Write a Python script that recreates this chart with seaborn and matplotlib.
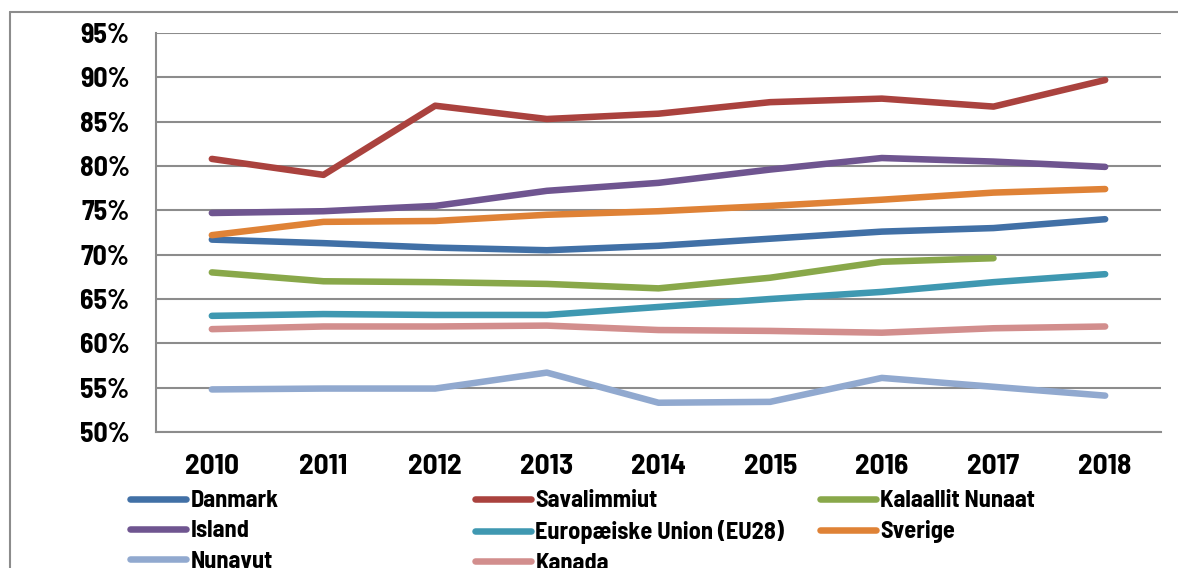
import numpy as np
import pandas as pd
import matplotlib
matplotlib.use("Agg")
import matplotlib.pyplot as plt
import seaborn as sns
from matplotlib.lines import Line2D
from matplotlib.ticker import FuncFormatter

years = ["2010", "2011", "2012", "2013", "2014", "2015", "2016", "2017", "2018"]

danmark = [71.7, 71.3, 70.8, 70.5, 71.0, 71.8, 72.6, 73.0, 74.0]
savalimmiut = [80.8, 79.0, 86.8, 85.3, 85.9, 87.2, 87.6, 86.7, 89.7]
kalaallit = [68.0, 67.0, 66.9, 66.7, 66.2, 67.4, 69.2, 69.6, np.nan]
island = [74.7, 74.9, 75.5, 77.2, 78.1, 79.6, 80.9, 80.5, 79.9]
eu28 = [63.1, 63.3, 63.2, 63.2, 64.1, 65.0, 65.8, 66.9, 67.8]
sverige = [72.2, 73.7, 73.8, 74.5, 74.9, 75.5, 76.2, 77.0, 77.4]
nunavut = [54.8, 54.9, 54.9, 56.7, 53.3, 53.4, 56.1, 55.1, 54.1]
kanada = [61.6, 61.9, 61.9, 62.0, 61.5, 61.4, 61.2, 61.7, 61.9]

series = {
    "Danmark": danmark,
    "Savalimmiut": savalimmiut,
    "Kalaallit Nunaat": kalaallit,
    "Island": island,
    "Europæiske Union (EU28)": eu28,
    "Sverige": sverige,
    "Nunavut": nunavut,
    "Kanada": kanada,
}
colors = {
    "Danmark": "#4170A6",
    "Savalimmiut": "#AA423E",
    "Kalaallit Nunaat": "#89A84A",
    "Island": "#6F5590",
    "Europæiske Union (EU28)": "#3F98B1",
    "Sverige": "#DF8236",
    "Nunavut": "#91A9CF",
    "Kanada": "#D28E8D",
}

rows = []
for name, vals in series.items():
    for i, v in enumerate(vals):
        rows.append({"pos": i, "value": v, "series": name})
df = pd.DataFrame(rows)

sns.set_theme(style="white")
plt.rcParams["font.family"] = ["Barlow Semi Condensed", "DejaVu Sans"]
plt.rcParams["font.weight"] = "bold"
plt.rcParams["text.color"] = "black"
plt.rcParams["xtick.color"] = "black"
plt.rcParams["ytick.color"] = "black"

fig = plt.figure(figsize=(11.78, 5.68), dpi=100)
ax = fig.add_axes([156/1178, 1-432/568, (1161-156)/1178, (432-33)/568])

sns.lineplot(data=df, x="pos", y="value", hue="series", palette=colors,
             hue_order=list(series.keys()), linewidth=4.7, ax=ax,
             legend=False, sort=False)
for ln in ax.get_lines():
    ln.set_solid_capstyle("round")

ax.set_xlim(-0.5, 8.5)
ax.set_ylim(50, 95)
ax.set_yticks(np.arange(50, 96, 5))
ax.yaxis.set_major_formatter(FuncFormatter(lambda v, p: f"{int(v)}%"))
ax.set_xticks(range(len(years)))
ax.set_xticklabels(years)
ax.set_xticks(np.arange(-0.5, 9.0, 1.0), minor=True)
ax.tick_params(axis="x", which="major", length=0, pad=16, labelsize=21, labelcolor="black")
ax.tick_params(axis="x", which="minor", length=6, width=1.5, color="#8c8c8c", direction="out")
ax.tick_params(axis="y", which="major", length=6, width=1.5, color="#8c8c8c", direction="out",
               labelsize=20, pad=13, labelcolor="black")
ax.grid(axis="y", color="#8c8c8c", linewidth=1.5)
ax.set_axisbelow(True)
for s in ["top", "right"]:
    ax.spines[s].set_visible(False)
for s in ["left", "bottom"]:
    ax.spines[s].set_color("#8c8c8c")
    ax.spines[s].set_linewidth(1.5)
ax.set_xlabel("")
ax.set_ylabel("")
for lbl in ax.get_xticklabels() + ax.get_yticklabels():
    lbl.set_fontweight("bold")

columns = [
    (["Danmark", "Island", "Nunavut"], 130),
    (["Savalimmiut", "Europæiske Union (EU28)", "Kanada"], 475),
    (["Kalaallit Nunaat", "Sverige"], 820),
]
for names, x0 in columns:
    handles = [Line2D([0], [0], color=colors[n], lw=4.7, solid_capstyle="round") for n in names]
    leg = fig.legend(handles, names, ncol=1, loc="upper left",
                     bbox_to_anchor=(x0/1178, 1-490/568), frameon=False,
                     fontsize=17.5, handlelength=2.3, handletextpad=0.18,
                     labelspacing=0.34, borderaxespad=0, borderpad=0)
    for t in leg.get_texts():
        t.set_fontweight("bold")
        t.set_color("black")

# outer frame (partially visible)
fig.add_artist(Line2D([10/1178, 1.0], [1-12/568, 1-12/568], transform=fig.transFigure,
                      color="#8c8c8c", lw=1.5))
fig.add_artist(Line2D([10/1178, 10/1178], [0, 1-12/568], transform=fig.transFigure,
                      color="#8c8c8c", lw=1.5))

fig.savefig("out.png", dpi=100)
